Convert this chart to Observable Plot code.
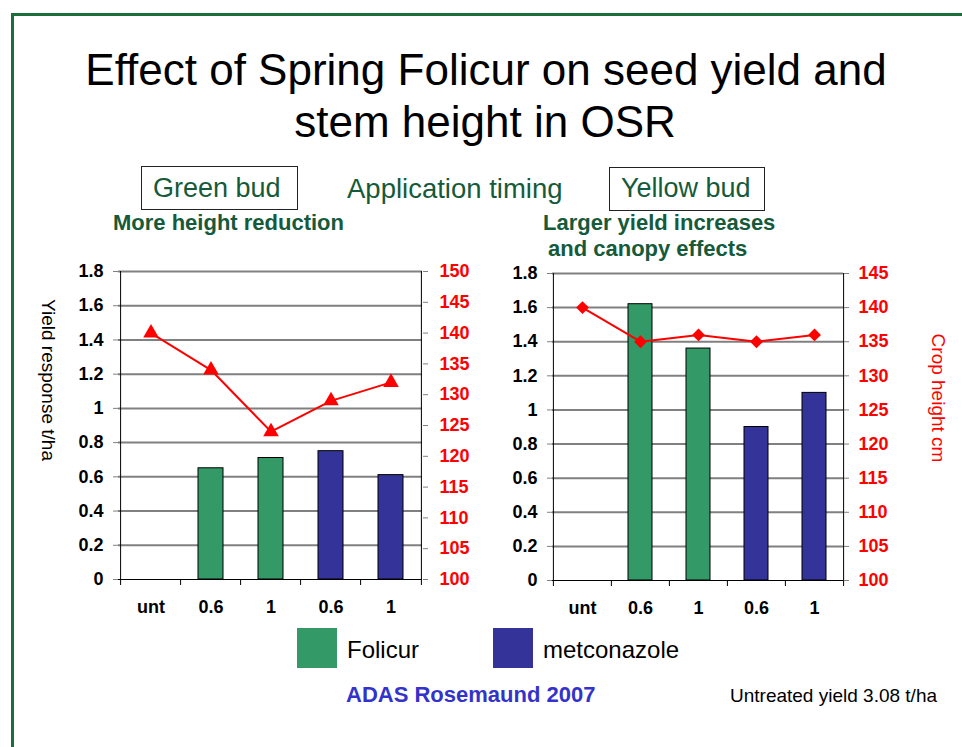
<!DOCTYPE html>
<html>
<head>
<meta charset="utf-8">
<script src="https://cdn.jsdelivr.net/npm/d3@7"></script>
<script src="https://cdn.jsdelivr.net/npm/@observablehq/plot@0.6"></script>
<style>
  html, body { margin: 0; padding: 0; background: #fff; }
  #page { position: relative; width: 962px; height: 747px; overflow: hidden; background: #fff;
          font-family: "Liberation Sans", Arial, sans-serif; }
  .t { position: absolute; white-space: nowrap; line-height: 1; z-index: 2; }
  .box { position: absolute; border: 1px solid #222; box-sizing: border-box; }
  .swatch { position: absolute; width: 40px; height: 40px; }
  .panel { position: absolute; z-index: 1; }
</style>
</head>
<body>
<div id="page"></div>
<script>
// ---------- data ----------
const categories = ["unt", "0.6", "1", "0.6", "1"];
const products = [null, "Folicur", "Folicur", "metconazole", "metconazole"];
const greenBudYield = [null, 0.65, 0.71, 0.75, 0.61];
const greenBudHeight = [140, 134, 124, 129, 132];
const yellowBudYield = [null, 1.62, 1.36, 0.90, 1.10];
const yellowBudHeight = [140, 135, 136, 135, 136];
const yieldTicks = [0, 0.2, 0.4, 0.6, 0.8, 1, 1.2, 1.4, 1.6, 1.8];
const greenHeightTicks = [100, 105, 110, 115, 120, 125, 130, 135, 140, 145, 150];
const yellowHeightTicks = [100, 105, 110, 115, 120, 125, 130, 135, 140, 145];
const legendItems = ["Folicur", "metconazole"];
const legendColors = ["#339966", "#333399"];

const page = document.getElementById("page");
const FONT = "'Liberation Sans', Arial, sans-serif";
const GREEN_TEXT = "#155a3a";

// frame lines of the slide
const border = document.createElement("div");
Object.assign(border.style, {position: "absolute", left: "11px", top: "13px", width: "960px", height: "740px",
  borderLeft: "3px solid #1a6e3c", borderTop: "3px solid #1a6e3c"});
page.appendChild(border);

function place(text, x, baseline, size, opts = {}) {
  const d = document.createElement("div");
  d.className = "t";
  d.textContent = text;
  d.style.fontSize = size + "px";
  d.style.top = (baseline - 0.8465 * size) + "px";
  d.style.left = x + "px";
  if (opts.weight) d.style.fontWeight = opts.weight;
  d.style.color = opts.color || "#000";
  if (opts.center) d.style.transform = "translateX(-50%)";
  page.appendChild(d);
  return d;
}
function vplace(text, baselineX, centerY, size, color) {
  const d = document.createElement("div");
  d.className = "t";
  d.textContent = text;
  Object.assign(d.style, {fontSize: size + "px", color, left: (baselineX + 0.8465 * size) + "px", top: centerY + "px",
    transformOrigin: "0 0", transform: "rotate(90deg) translateX(-50%)"});
  page.appendChild(d);
}
function box(x1, y1, x2, y2) {
  const b = document.createElement("div");
  b.className = "box";
  Object.assign(b.style, {left: x1 + "px", top: y1 + "px", width: (x2 - x1) + "px", height: (y2 - y1) + "px"});
  page.appendChild(b);
}

// ---------- titles ----------
place("Effect of Spring Folicur on seed yield and", 486, 85, 44, {center: true});
place("stem height in OSR", 485, 137, 44, {center: true});

box(141, 166, 298, 210);
place("Green bud", 153, 198, 27, {color: GREEN_TEXT});
place("Application timing", 347, 198, 27.5, {color: GREEN_TEXT});
box(609, 167, 765, 211);
place("Yellow bud", 621, 198, 27, {color: GREEN_TEXT});

place("More height reduction", 113, 231, 22, {weight: "bold", color: GREEN_TEXT});
place("Larger yield increases", 543, 231, 22, {weight: "bold", color: GREEN_TEXT});
place("and canopy effects", 548, 257, 22, {weight: "bold", color: GREEN_TEXT});

// ---------- panels ----------
function panel({yields, heights, hTicks, symbol, r, left, top, width, height, mL, mR, mT, mB, rPad}) {
  const rows = categories.map((c, i) => ({key: i, cat: c, product: products[i], yield: yields[i], height: heights[i]}));
  const keys = rows.map(d => d.key);
  const yMax = yieldTicks[yieldTicks.length - 1];
  const toY = d3.scaleLinear([hTicks[0], hTicks[hTicks.length - 1]], [yieldTicks[0], yMax]);
  const step = (width - mL - mR) / keys.length;
  const tickLen = 6 * yMax / (height - mT - mB); // 6px expressed in y units
  const edge = {stroke: "black", strokeWidth: 1};
  const last = keys[keys.length - 1];
  const svg = Plot.plot({
    width, height, marginLeft: mL, marginRight: mR, marginTop: mT, marginBottom: mB,
    style: {fontFamily: FONT, background: "transparent", overflow: "visible"},
    x: {type: "band", domain: keys, paddingInner: 0.59, paddingOuter: 0.295, label: null},
    y: {domain: [yieldTicks[0], yMax], label: null},
    color: {domain: legendItems, range: legendColors},
    marks: [
      Plot.gridY(yieldTicks.slice(1), {stroke: "#808080", strokeOpacity: 1, strokeWidth: 2}),
      Plot.barY(rows.filter(d => d.yield != null), {x: "key", y: "yield", fill: "product", stroke: "black", strokeWidth: 1}),
      Plot.ruleY([0], edge),
      Plot.ruleX([keys[0]], {...edge, dx: -step / 2}),
      Plot.ruleX([last], {...edge, dx: step / 2}),
      // category boundary ticks below the x axis
      Plot.ruleX(keys, {x: d => d, y1: 0, y2: -tickLen, dx: -step / 2, ...edge}),
      Plot.ruleX([last], {x: d => d, y1: 0, y2: -tickLen, dx: step / 2, ...edge}),
      Plot.axisY(yieldTicks, {anchor: "left", tickSize: 5, tickPadding: 10, stroke: "#808080", fill: "black",
        fontSize: 18, fontWeight: "bold", tickFormat: d => String(d), label: null}),
      Plot.axisY(hTicks.map(toY), {anchor: "right", tickSize: 5, tickPadding: rPad, stroke: "#808080", fill: "red",
        fontSize: 18, fontWeight: "bold", tickFormat: v => String(Math.round(toY.invert(v))), label: null}),
      Plot.axisX(keys, {anchor: "bottom", tickSize: 0, tickPadding: 21, fill: "black", fontSize: 18, fontWeight: "bold",
        tickFormat: k => categories[k], label: null}),
      Plot.line(rows, {x: "key", y: d => toY(d.height), stroke: "red", strokeWidth: 2}),
      Plot.dot(rows, {x: "key", y: d => toY(d.height), symbol, r, fill: "red"})
    ]
  });
  svg.classList.add("panel");
  svg.style.left = left + "px";
  svg.style.top = top + "px";
  page.appendChild(svg);
}

panel({yields: greenBudYield, heights: greenBudHeight, hTicks: greenHeightTicks, symbol: "triangle", r: 5.8,
  left: 20, top: 255, width: 470, height: 370, mL: 98, mR: 68, mT: 16, mB: 46, rPad: 12});
panel({yields: yellowBudYield, heights: yellowBudHeight, hTicks: yellowHeightTicks, symbol: "diamond2", r: 5.8,
  left: 490, top: 257, width: 470, height: 370, mL: 62, mR: 117, mT: 16, mB: 47, rPad: 10});

vplace("Yield response t/ha", 42, 380, 19, "#000");
vplace("Crop height cm", 932, 398, 19, "red");

// ---------- legend & notes ----------
legendItems.forEach((name, i) => {
  const x = [297, 493][i];
  const s = document.createElement("div");
  s.className = "swatch";
  Object.assign(s.style, {left: x + "px", top: "628px", background: legendColors[i]});
  page.appendChild(s);
  place(name, x + 50, 658, 24);
});
place("ADAS Rosemaund 2007", 346, 703, 22, {weight: "bold", color: "#3333cc"});
place("Untreated yield 3.08 t/ha", 730, 702, 19);
</script>
</body>
</html>
